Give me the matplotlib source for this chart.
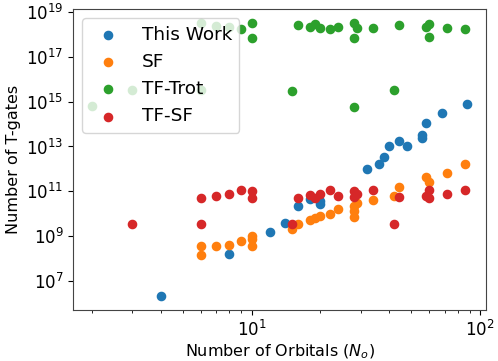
import matplotlib
matplotlib.use('Agg')
import matplotlib.pyplot as plt
from matplotlib.ticker import NullFormatter

# This Work
tw_n = [4, 8, 12, 14, 16, 18, 20, 20, 32, 36, 38, 40, 48, 44, 56, 56, 58, 68, 88]
tw_t = [2.1e6, 1.6e8, 1.6e9, 4.0e9, 2.2e10, 4.7e10, 3.9e10, 2.7e10, 9.7e11, 1.6e12,
        3.5e12, 1.0e13, 1.0e13, 1.8e13, 3.4e13, 2.3e13, 1.1e14, 3.1e14, 7.6e14]

# SF
sf_n = [6, 6, 7, 8, 9, 10, 10, 10, 15, 16, 18, 19, 20, 22, 24, 28, 28, 28, 29, 34,
        42, 44, 58, 60, 72, 86]
sf_t = [3.6e8, 1.5e8, 3.6e8, 4.2e8, 6.0e8, 1.07e9, 7.7e8, 3.6e8, 2.1e9, 3.4e9, 5.1e9,
        6.5e9, 7.7e9, 9.6e9, 1.57e10, 6.9e9, 1.28e10, 2.3e10, 3.0e10, 4.2e10, 6.5e10,
        1.5e11, 4.4e11, 2.7e11, 6.6e11, 1.65e12]

# TF-Trot
trot_n = [2, 3, 6, 6, 7, 8, 9, 10, 10, 15, 16, 18, 19, 20, 22, 24, 28, 28, 28, 29,
          34, 42, 44, 58, 60, 60, 72, 86]
trot_t = [6.5e14, 3.3e15, 3.3e15, 3.0e18, 2.4e18, 2.0e18, 1.66e18, 3.2e18, 7.0e17,
          3.1e15, 2.6e18, 2.2e18, 2.8e18, 1.9e18, 1.66e18, 2.2e18, 3.25e18, 7.0e17,
          6.0e14, 1.85e18, 1.8e18, 3.3e15, 2.6e18, 2.2e18, 2.8e18, 7.6e17, 1.9e18,
          1.66e18]

# TF-SF
tfsf_n = [3, 6, 6, 7, 8, 9, 10, 10, 15, 16, 18, 19, 20, 22, 24, 28, 28, 29, 34, 42,
          44, 58, 60, 60, 72, 86]
tfsf_t = [3.6e9, 5.2e10, 3.6e9, 6.3e10, 7.7e10, 1.16e11, 1.05e11, 5.3e10, 3.6e9,
          5.3e10, 7.0e10, 5.3e10, 8.0e10, 1.2e11, 6.3e10, 1.08e11, 5.5e10, 8.0e10,
          1.16e11, 3.6e9, 5.5e10, 6.3e10, 1.1e11, 5.3e10, 8.0e10, 1.16e11]

fig = plt.figure(figsize=(4.98, 3.61), dpi=100)
ax = fig.add_axes([0.147, 0.141, 0.829, 0.834])
ax.scatter(tw_n, tw_t, s=35, label='This Work')
ax.scatter(sf_n, sf_t, s=35, label='SF')
ax.scatter(trot_n, trot_t, s=35, label='TF-Trot')
ax.scatter(tfsf_n, tfsf_t, s=35, label='TF-SF')
ax.set_xscale('log')
ax.set_yscale('log')
ax.xaxis.set_minor_formatter(NullFormatter())
ax.set_xlabel('Number of Orbitals ($N_o$)', fontsize=11.5, labelpad=2)
ax.set_ylabel('Number of T-gates', fontsize=11.5)
ax.tick_params(axis='both', which='major', labelsize=12)
for s in ax.spines.values():
    s.set_color('#444444')
ax.legend(loc='upper left', fontsize=13.3)
fig.savefig('out.png', dpi=100)
